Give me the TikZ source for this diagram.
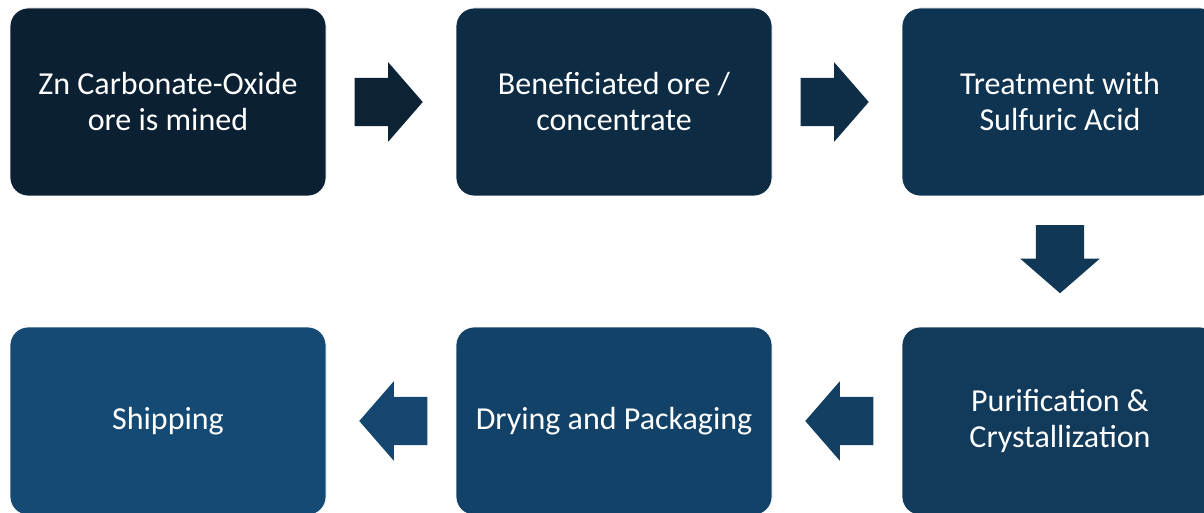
\documentclass[tikz,border=0pt]{standalone}
\usepackage{fontspec}
\setmainfont{Carlito}
\usetikzlibrary{shapes.arrows, calc}

\begin{document}
\begin{tikzpicture}[x=1pt, y=-1pt, font=\fontsize{32}{36}\selectfont]
  \definecolor{s1}{HTML}{0C2033}
  \definecolor{s2}{HTML}{0E2B44}
  \definecolor{s3}{HTML}{0F3451}
  \definecolor{s4}{HTML}{113A5B}
  \definecolor{s5}{HTML}{134268}
  \definecolor{s6}{HTML}{154A74}
  \definecolor{a1}{HTML}{0C2235}
  \definecolor{a2}{HTML}{0E2E47}
  \definecolor{a3}{HTML}{103856}
  \definecolor{a4}{HTML}{123F62}
  \definecolor{a5}{HTML}{14466F}
  \tikzset{
    stage/.style={draw=white, line width=0.8pt, rounded corners=18pt, minimum width=316pt, minimum height=188pt, inner sep=0pt, align=center, text=white},
    flow/.style={single arrow, draw=none, inner xsep=0pt, inner ysep=24pt, minimum height=68pt, single arrow head extend=15.5pt, single arrow tip angle=98, anchor=tip}
  }
  \def\stages{
      mined/168/102/s1/{Zn Carbonate-Oxide\\ore is mined},
      benef/614/102/s2/{Beneficiated ore /\\concentrate},
      acid/1060/102/s3/{Treatment with\\Sulfuric Acid},
      purif/1060/421/s4/{Purification \&\\Crystallization},
      dry/614/421/s5/{Drying and Packaging},
      ship/168/421/s6/{Shipping}%
  }
  \def\links{
      mined/benef/0/a1,
      benef/acid/0/a2,
      acid/purif/270/a3,
      purif/dry/180/a4,
      dry/ship/180/a5%
  }
  \useasboundingbox (0,0) rectangle (1204,513);

  \foreach \n/\x/\y/\c/\t in \stages {
      \node [stage, fill=\c] (\n) at (\x, \y) {\t};
  }
  % arrow tip sits 32pt past the gap's middle
  \foreach \p/\q/\r/\c in \links {
      \node [flow, fill=\c, rotate=\r] (\p-\q) at ($(\p)!0.5!(\q)!32pt!(\q)$) {};
  }
\end{tikzpicture}
\end{document}
